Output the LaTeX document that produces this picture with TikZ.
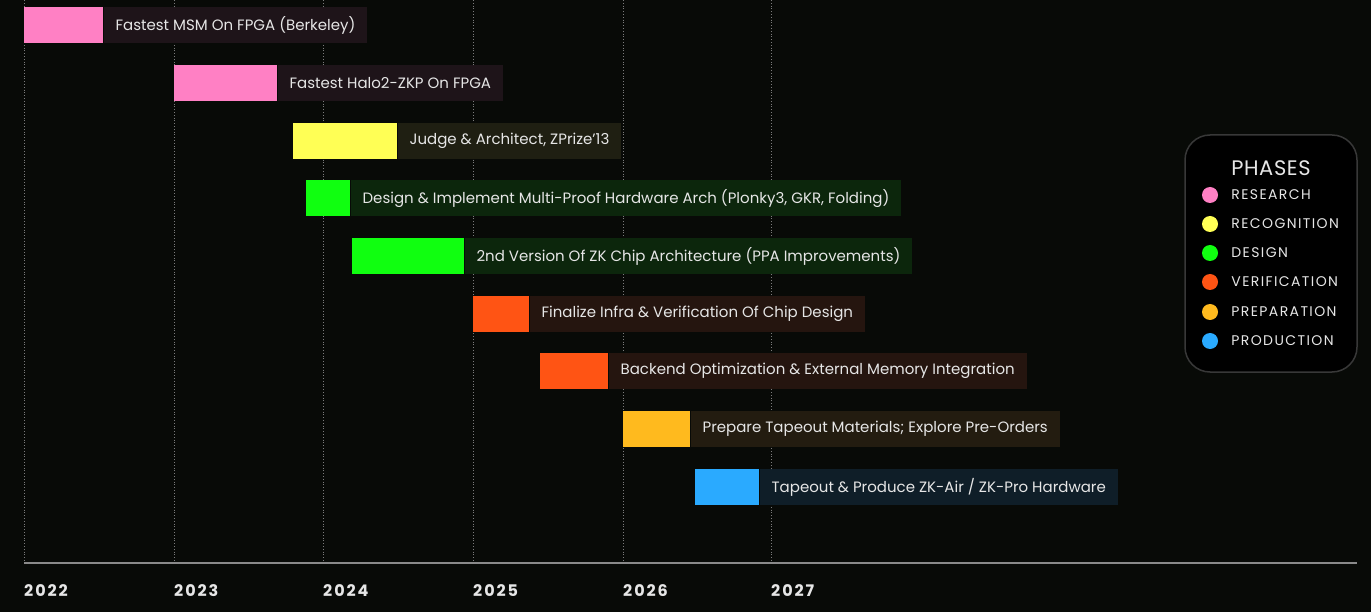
\documentclass[tikz,border=0pt]{standalone}
\usepackage{fontspec}
\setmainfont{Poppins}
\usetikzlibrary{positioning}

\definecolor{bgc}{HTML}{080A07}
\definecolor{gridc}{HTML}{7C7C7C}
\definecolor{axisc}{HTML}{8A8A8A}
\definecolor{textc}{HTML}{E6E6E6}
\definecolor{pinkc}{HTML}{FF80C4}
\definecolor{pinklab}{HTML}{1E1419}
\definecolor{yelc}{HTML}{FFFF55}
\definecolor{yellab}{HTML}{1F1F12}
\definecolor{grnc}{HTML}{10FF10}
\definecolor{grnlab}{HTML}{0C260C}
\definecolor{redc}{HTML}{FF5414}
\definecolor{redlab}{HTML}{25150F}
\definecolor{ambc}{HTML}{FFBA1E}
\definecolor{amblab}{HTML}{231C10}
\definecolor{bluc}{HTML}{2AAAFF}
\definecolor{blulab}{HTML}{0F1E28}

\tikzset{
  bar/.style={anchor=north west, minimum height=36, inner sep=0pt},
  barlabel/.style={minimum height=36, inner xsep=12pt, inner ysep=0pt,
    text=textc, font=\fontsize{15}{15}\selectfont},
  year/.style={anchor=west, inner sep=0pt, text=textc,
    font=\fontsize{16}{16}\selectfont\bfseries\addfontfeature{LetterSpace=12}},
  grid/.style={gridc, dotted, line width=0.8pt},
  legdot/.style={circle, minimum size=16, inner sep=0pt},
  legtext/.style={anchor=west, inner sep=0pt, text=textc,
    font=\fontsize{14}{14}\selectfont\addfontfeature{LetterSpace=10}},
}

\begin{document}
\begin{tikzpicture}[x=1pt, y=-1pt]
  \fill[bgc] (0,0) rectangle (1371,612);
  \useasboundingbox (0,0) rectangle (1371,612);

  % years and grid
  \foreach \x/\yr in {24/2022, 174/2023, 323/2024, 473/2025, 623/2026, 771/2027} {
    \draw[grid] (\x,0) -- (\x,563);
    \node[year] (y\yr) at (\x,591) {\yr};
  }
  \draw[axisc, line width=2pt] (24,563) -- (1357,563);

  % bars
  \node[bar, fill=pinkc, minimum width=79] (msm) at (24,7) {};
  \node[barlabel, fill=pinklab, right=0pt of msm] (msmtext) {Fastest MSM On FPGA (Berkeley)};

  \node[bar, fill=pinkc, minimum width=103] (halo) at (174,65) {};
  \node[barlabel, fill=pinklab, right=0pt of halo] (halotext) {Fastest Halo2-ZKP On FPGA};

  \node[bar, fill=yelc, minimum width=104] (judge) at (293,123) {};
  \node[barlabel, fill=yellab, right=0pt of judge] (judgetext) {Judge \& Architect, ZPrize'13};

  \node[bar, fill=grnc, minimum width=44] (multi) at (306,180) {};
  \node[barlabel, fill=grnlab, right=0pt of multi] (multitext) {Design \& Implement Multi-Proof Hardware Arch (Plonky3, GKR, Folding)};

  \node[bar, fill=grnc, minimum width=112] (chip) at (352,238) {};
  \node[barlabel, fill=grnlab, right=0pt of chip] (chiptext) {2nd Version Of ZK Chip Architecture (PPA Improvements)};

  \node[bar, fill=redc, minimum width=56] (infra) at (473,296) {};
  \node[barlabel, fill=redlab, right=0pt of infra] (infratext) {Finalize Infra \& Verification Of Chip Design};

  \node[bar, fill=redc, minimum width=68] (backend) at (540,353) {};
  \node[barlabel, fill=redlab, right=0pt of backend] (backendtext) {Backend Optimization \& External Memory Integration};

  \node[bar, fill=ambc, minimum width=67] (prep) at (623,411) {};
  \node[barlabel, fill=amblab, right=0pt of prep] (preptext) {Prepare Tapeout Materials; Explore Pre-Orders};

  \node[bar, fill=bluc, minimum width=64] (tape) at (695,469) {};
  \node[barlabel, fill=blulab, right=0pt of tape] (tapetext) {Tapeout \& Produce ZK-Air / ZK-Pro Hardware};

  % legend
  \draw[fill=black, draw=white!22!black, line width=1.5pt, rounded corners=25]
    (1185,135) rectangle (1357,372);
  \node[text=textc, font=\fontsize{21}{21}\selectfont\addfontfeature{LetterSpace=3}] (phases) at (1271,168) {PHASES};
  \node[legdot, fill=pinkc] (d1) at (1210,195) {};
  \node[legtext, right=13pt of d1] (l1) {RESEARCH};
  \node[legdot, fill=yelc] (d2) at (1210,224) {};
  \node[legtext, right=13pt of d2] (l2) {RECOGNITION};
  \node[legdot, fill=grnc] (d3) at (1210,253) {};
  \node[legtext, right=13pt of d3] (l3) {DESIGN};
  \node[legdot, fill=redc] (d4) at (1210,282) {};
  \node[legtext, right=13pt of d4] (l4) {VERIFICATION};
  \node[legdot, fill=ambc] (d5) at (1210,312) {};
  \node[legtext, right=13pt of d5] (l5) {PREPARATION};
  \node[legdot, fill=bluc] (d6) at (1210,341) {};
  \node[legtext, right=13pt of d6] (l6) {PRODUCTION};
\end{tikzpicture}
\end{document}
